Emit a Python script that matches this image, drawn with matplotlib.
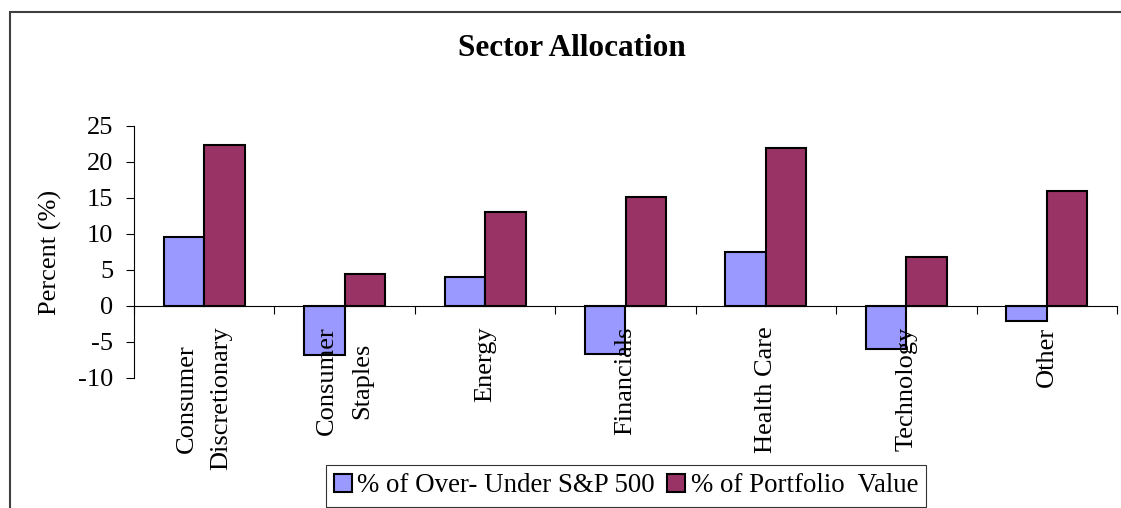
import matplotlib
matplotlib.use("Agg")
import matplotlib.pyplot as plt
from matplotlib.patches import Rectangle
import numpy as np

# Dados do gráfico
setores = ["Consumer\nDiscretionary", "Consumer\nStaples", "Energy", "Financials",
           "Health Care", "Technology", "Other"]
over_under = [9.5, -6.9, 4.0, -6.7, 7.5, -6.0, -2.1]
portfolio = [22.3, 4.4, 13.0, 15.1, 21.9, 6.8, 16.0]
y_ticks = [-10, -5, 0, 5, 10, 15, 20, 25]

plt.rcParams["font.family"] = ["Liberation Serif", "DejaVu Serif"]
plt.rcParams["axes.unicode_minus"] = False

fig = plt.figure(figsize=(11.21, 5.08), dpi=100)
ax = fig.add_axes([134 / 1121, 1 - 377.7 / 508, (1117 - 134) / 1121, (377.7 - 126) / 508])

x = np.arange(len(setores)) + 0.5
w = 0.288
ax.bar(x - w / 2, over_under, w, color="#9999FF", edgecolor="black", linewidth=1.5,
       label="% of Over- Under S&P 500", zorder=1)
ax.bar(x + w / 2, portfolio, w, color="#993366", edgecolor="black", linewidth=1.5,
       label="% of Portfolio  Value", zorder=1)

ax.set_xlim(0, len(setores))
ax.set_ylim(-10, 25)
ax.set_yticks(y_ticks)
ax.tick_params(axis="y", labelsize=19, length=6, pad=9, direction="out", width=0.8)

# eixo x passando pelo zero
ax.spines["bottom"].set_position(("data", 0))
ax.spines["top"].set_visible(False)
ax.spines["right"].set_visible(False)
ax.spines["left"].set_linewidth(0.8)
ax.spines["bottom"].set_linewidth(0.8)

ax.set_xticks(np.arange(len(setores) + 1))
ax.set_xticklabels([])
ax.tick_params(axis="x", which="major", length=6, direction="out", width=0.8)
ax.set_xticks(x, minor=True)
ax.set_xticklabels(setores, minor=True, rotation=90, va="top", ha="center",
                   multialignment="center", fontsize=19, linespacing=1.75)
ax.tick_params(axis="x", which="minor", length=0, pad=15)

fig.text(572 / 1121, 1 - 48 / 508, "Sector Allocation", ha="center", va="center",
         fontsize=22.5, fontweight="bold")
fig.text(50 / 1121, 1 - 252 / 508, "Percent (%)", rotation=90, ha="center",
         va="center", fontsize=19)

leg = fig.legend(loc="center", bbox_to_anchor=(626 / 1121, 1 - 486 / 508), ncol=2,
                 fontsize=19.4, frameon=True, fancybox=False, edgecolor="black",
                 handlelength=0.67, handleheight=0.67, handletextpad=0.2,
                 columnspacing=0.45, borderpad=0.3, borderaxespad=0)
leg.get_frame().set_linewidth(0.8)

# moldura externa
fig.add_artist(Rectangle((10 / 1121, -0.1), 1.2, 1.1 - 12 / 508, transform=fig.transFigure,
                         fill=False, edgecolor="#404040", linewidth=1.5, clip_on=False))

plt.savefig("out.png", dpi=100)
